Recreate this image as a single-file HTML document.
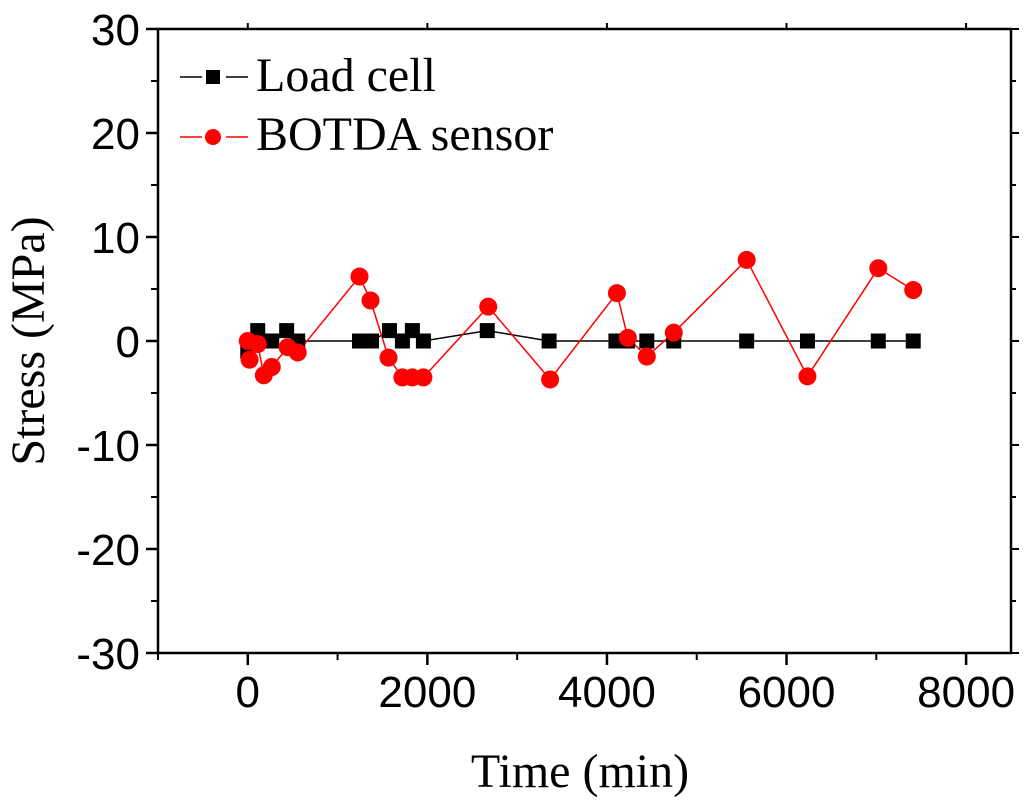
<!DOCTYPE html>
<html><head><meta charset="utf-8"><style>
html,body{margin:0;padding:0;background:#fff;}
svg{display:block;}
.tk{font-family:"Liberation Sans",sans-serif;font-size:44px;fill:#000;}
.tt{font-family:"Liberation Serif",serif;font-size:48px;fill:#000;}
</style></head><body>
<svg id="chart" width="1024" height="805" viewBox="0 0 1024 805" xmlns="http://www.w3.org/2000/svg">
<g id="axes"></g>
<g id="series"></g>
<g id="legend">
  <line x1="180" y1="77" x2="202" y2="77" stroke="#000" stroke-width="1.5"/>
  <line x1="226" y1="77" x2="248" y2="77" stroke="#000" stroke-width="1.5"/>
  <rect x="206" y="70" width="14" height="14" fill="#000"/>
  <text x="256" y="91" class="tt">Load cell</text>
  <line x1="180" y1="137" x2="202" y2="137" stroke="#f00" stroke-width="1.5"/>
  <line x1="226" y1="137" x2="248" y2="137" stroke="#f00" stroke-width="1.5"/>
  <circle cx="213" cy="137" r="8" fill="#f00"/>
  <text x="256" y="150" class="tt">BOTDA sensor</text>
</g>
<text x="580" y="787" class="tt" text-anchor="middle">Time (min)</text>
<text transform="translate(44,341) rotate(-90)" class="tt" text-anchor="middle">Stress (MPa)</text>
</svg>
<script>
const xTicks = [0, 2000, 4000, 6000, 8000];
const xMinor = [-1000, 1000, 3000, 5000, 7000];
const yTicks = [-30, -20, -10, 0, 10, 20, 30];
const loadTime = [0, 111, 267, 433, 556, 1244, 1378, 1578, 1722, 1833, 1956, 2667, 3356, 4100, 4230, 4444, 4744, 5556, 6233, 7022, 7411];
const loadStress = [-1, 1, 0, 1, 0, 0, 0, 1, 0, 1, 0, 1, 0, 0, 0, 0, 0, 0, 0, 0, 0];
const botdaTime = [0, 20, 111, 178, 267, 444, 556, 1244, 1367, 1567, 1722, 1833, 1956, 2678, 3367, 4111, 4233, 4444, 4744, 5556, 6233, 7022, 7411];
const botdaStress = [0, -1.8, -0.3, -3.3, -2.5, -0.6, -1.1, 6.2, 3.9, -1.6, -3.5, -3.5, -3.5, 3.3, -3.7, 4.6, 0.3, -1.5, 0.8, 7.8, -3.4, 7.0, 4.9];

const X0 = 158, X1 = 1011, Y0 = 29, Y1 = 653;
const xMin = -1000, xMax = 8500, yMin = -30, yMax = 30;
const sx = v => X0 + (v - xMin) / (xMax - xMin) * (X1 - X0);
const sy = v => Y1 - (v - yMin) / (yMax - yMin) * (Y1 - Y0);
const NS = "http://www.w3.org/2000/svg";
function mk(tag, attrs, parent) {
  const e = document.createElementNS(NS, tag);
  for (const k in attrs) e.setAttribute(k, attrs[k]);
  parent.appendChild(e);
  return e;
}
const axes = document.getElementById('axes');
const frame = mk('rect', {x: X0, y: Y0, width: X1 - X0, height: Y1 - Y0, fill: 'none', stroke: '#000', 'stroke-width': 2.5}, axes);


xTicks.forEach(v => {
  const x = sx(v);
  mk('line', {x1: x, y1: Y1, x2: x, y2: Y1 + 12, stroke: '#000', 'stroke-width': 2.5}, axes);
  mk('line', {x1: x, y1: Y0, x2: x, y2: Y0 - 6, stroke: '#000', 'stroke-width': 2}, axes);
  const t = mk('text', {x: x, y: 707, class: 'tk', 'text-anchor': 'middle'}, axes);
  t.textContent = v;
  
  
});
xMinor.forEach(v => {
  const x = sx(v);
  mk('line', {x1: x, y1: Y1, x2: x, y2: Y1 + 7, stroke: '#000', 'stroke-width': 2}, axes);
});
yTicks.forEach((v, i) => {
  const y = sy(v);
  mk('line', {x1: X0, y1: y, x2: X0 - 12, y2: y, stroke: '#000', 'stroke-width': 2.5}, axes);
  mk('line', {x1: X1, y1: y, x2: X1 + 8, y2: y, stroke: '#000', 'stroke-width': 2}, axes);
  if (i < yTicks.length - 1) {
    const ym = sy(v + 5);
    mk('line', {x1: X0, y1: ym, x2: X0 - 7, y2: ym, stroke: '#000', 'stroke-width': 2}, axes);
    mk('line', {x1: X1, y1: ym, x2: X1 + 5, y2: ym, stroke: '#000', 'stroke-width': 2}, axes);
  }
  const t = mk('text', {x: 140, y: y + 16, class: 'tk', 'text-anchor': 'end'}, axes);
  t.textContent = v;
  
  
});
const series = document.getElementById('series');
const lp = mk('polyline', {points: loadTime.map((t, i) => sx(t) + ',' + sy(loadStress[i])).join(' '), fill: 'none', stroke: '#000', 'stroke-width': 1.5}, series);


const rp = mk('polyline', {points: botdaTime.map((t, i) => sx(t) + ',' + sy(botdaStress[i])).join(' '), fill: 'none', stroke: '#f00', 'stroke-width': 1.5}, series);


loadTime.forEach((t, i) => {
  const r = mk('rect', {x: sx(t) - 7.5, y: sy(loadStress[i]) - 7.5, width: 15, height: 15, fill: '#000'}, series);
  
  
});
botdaTime.forEach((t, i) => {
  const c = mk('circle', {cx: sx(t), cy: sy(botdaStress[i]), r: 9, fill: '#f00'}, series);
  
  
});
</script>
</body></html>
